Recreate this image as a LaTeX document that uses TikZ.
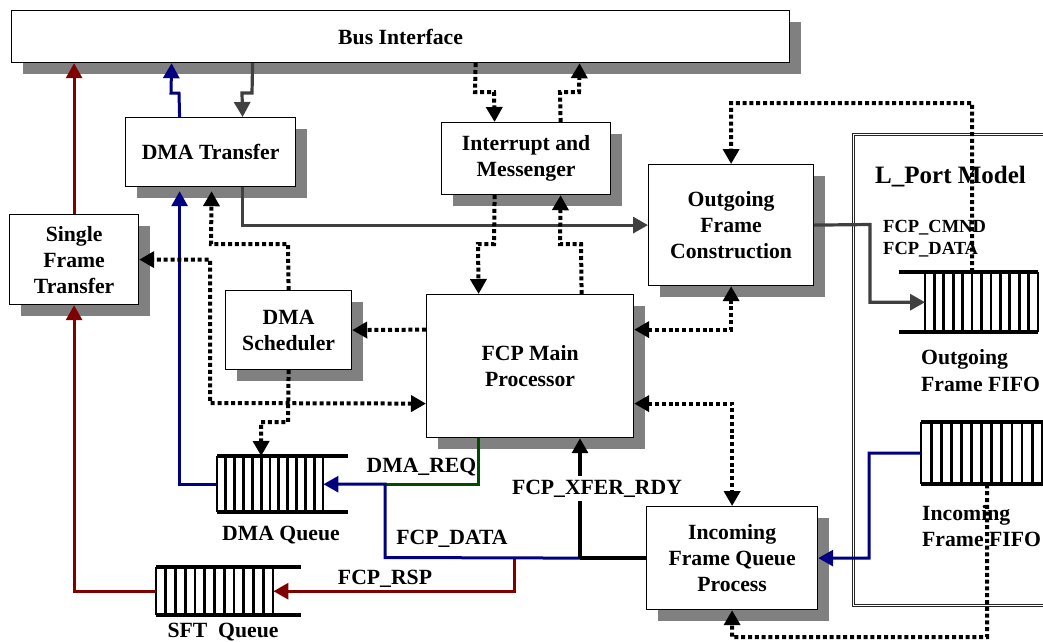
\documentclass[tikz,border=0pt]{standalone}
\usepackage{fontspec}
\setmainfont{Liberation Serif}
\usetikzlibrary{arrows.meta,shadows,calc}
\definecolor{dred}{RGB}{128,0,0}
\definecolor{dblue}{RGB}{0,0,128}
\definecolor{dgray}{RGB}{64,64,64}
\definecolor{dgreen}{RGB}{0,77,0}
\definecolor{shade}{RGB}{128,128,128}
\begin{document}
\begin{tikzpicture}[x=1pt,y=-1pt,
  font=\bfseries\fontsize{21.7}{26}\selectfont,
  >={Triangle[width=16pt,length=15pt]},
  blk/.style={draw=black,line width=1.2pt,fill=white,align=center,inner sep=0pt,anchor=north west,
    drop shadow={shadow xshift=11pt,shadow yshift=-11pt,fill=shade,opacity=1}},
  qarea/.style={inner sep=0pt,anchor=north west},
  qcell/.style={line width=2.8pt,black},
  qrail/.style={line width=3.2pt,black},
  lbl/.style={inner sep=0pt},
  small/.style={font=\bfseries\fontsize{18.5}{21}\selectfont},
  redline/.style={line width=3pt,dred},
  blueline/.style={line width=3pt,dblue},
  greenline/.style={line width=3pt,dgreen},
  grayline/.style={line width=3.2pt,dgray},
  blackline/.style={line width=3.3pt,black},
  dot/.style={line width=4pt,black,dash pattern=on 4pt off 2.8pt},
  dline/.style={draw=black!85,line width=0.9pt,double=white,double distance=1.8pt}
]
\useasboundingbox (0,0) rectangle (1043,641);
\clip (0,0) rectangle (1043,641);

% L_Port model frame
\draw[dline] (853.5,134.5) rectangle (1080,605.5);
\node[lbl,anchor=base west,font=\bfseries\fontsize{25}{30}\selectfont] (lptitle) at (875,183) {L\_Port Model};

% functional blocks
\node[blk,minimum width=778pt,minimum height=52pt] (bus) at (11,10) {Bus Interface};
\node[blk,minimum width=170pt,minimum height=69pt] (dma) at (125,117) {DMA Transfer};
\node[blk,minimum width=129pt,minimum height=90pt] (sft) at (9,214) {Single\\Frame\\Transfer};
\node[blk,minimum width=169pt,minimum height=72pt] (irq) at (441,122) {Interrupt and\\Messenger};
\node[blk,minimum width=165pt,minimum height=121pt] (ofc) at (648,164) {Outgoing\\Frame\\Construction};
\node[blk,minimum width=126pt,minimum height=79pt] (dsch) at (225,290) {DMA\\Scheduler};
\node[blk,minimum width=207pt,minimum height=143pt] (fcp) at (426,294) {FCP Main\\Processor};
\node[blk,minimum width=171pt,minimum height=103pt] (ifq) at (646,506) {Incoming\\Frame Queue\\Process};

% queues
\node[qarea,minimum width=106pt,minimum height=56pt] (dmaq) at (217,456) {};
\foreach \i in {0,...,12} \draw[qcell] ({217+\i*106/12},456) -- ++(0,56);
\draw[qrail] (217,456) -- (348,456) (217,512) -- (348,512);

\node[qarea,minimum width=117pt,minimum height=48pt] (sftq) at (156,567) {};
\foreach \i in {0,...,12} \draw[qcell] ({156+\i*117/12},567) -- ++(0,48);
\draw[qrail] (156,567) -- (301,567) (156,615) -- (301,615);

\node[qarea,minimum width=113pt,minimum height=60pt] (ofifo) at (925,272) {};
\foreach \i in {0,...,12} \draw[qcell] ({925+\i*113/12},272) -- ++(0,60);
\draw[qrail] (899,272) -- (1038,272) (899,332) -- (1038,332);

\node[qarea,minimum width=122pt,minimum height=62pt] (ififo) at (921,422) {};
\foreach \i in {0,...,12} \draw[qcell] ({921+\i*10.1},422) -- ++(0,62);
\draw[qrail] (921,422) -- (1050,422) (921,484) -- (1050,484);

% queue captions
\node[lbl,anchor=base] (dmaqcap) at (281,540) {DMA Queue};
\node[lbl,anchor=base] (sftqcap) at (223,637) {SFT\ \ Queue};
\node[lbl,anchor=base west] (ocap1) at (921,364) {Outgoing};
\node[lbl,anchor=base west] (ocap2) at (921,391) {Frame FIFO};
\node[lbl,anchor=base west] (icap1) at (922,520) {Incoming};
\node[lbl,anchor=base west] (icap2) at (922,546) {Frame FIFO};
\node[lbl,small,anchor=base west] (cmnd) at (883,232) {FCP\_CMND};
\node[lbl,small,anchor=base west] (fdat) at (883,254) {FCP\_DATA};

% junction below the main processor
\coordinate (jn) at ([xshift=-66pt]ifq.west);

% solid connectors
\draw[redline,->] (sft.north) -- (sft.north |- bus.south);
\draw[redline,->] (sftq.west) -| (sft.south);
\draw[redline,->] ([xshift=-66pt]jn) |- (sftq.east);
\draw[blueline,->] (dmaq.west) -| ([xshift=-31pt,yshift=-4pt]dma.south);
\draw[blueline,->] ([xshift=-31pt]dma.north) -- (179,93) -- (171,93) -- ([xshift=-229pt]bus.south);
\draw[greenline] ([xshift=-51.5pt]fcp.south) |- (385,484);
\draw[blueline,->] (jn) -- (385,557.5) |- (dmaq.east);
\draw[blueline,->] (ififo.west) -- (869,453) |- (ifq.east);
\draw[grayline,->] ([xshift=-148pt]bus.south) -- (252,93) -- (242,93) -- ([xshift=32pt]dma.north);
\draw[grayline,->] ([xshift=32pt]dma.south) |- (ofc.west);
\draw[grayline,->] (ofc.east) -- (870,224.5) |- (ofifo.west);
\draw[blackline] (ifq.west) -- (jn);
\draw[blackline,->] (jn) -- (jn |- fcp.south);

% dotted control connectors
\draw[dot,->] ([xshift=75pt]bus.south) -- (475,92) -- (494,92) -- ([xshift=-31.5pt]irq.north);
\draw[dot,->] ([xshift=34.5pt]irq.north) -- (560,92) -- (579,92) -- ([xshift=179pt]bus.south);
\draw[dot,->] ([xshift=-31.5pt]irq.south) -- (494,244) -- (478,244) -- ([xshift=-51.5pt]fcp.north);
\draw[dot,->] ([xshift=51.5pt]fcp.north) -- (581,244) -- (560,244) -- ([xshift=34.5pt]irq.south);
\draw[dot,<->] ([yshift=36.5pt]fcp.east) -| (ofc.south);
\draw[dot,->] ([xshift=-9.5pt]ofifo.north) -- (972,103) -| (ofc.north);
\draw[dot,->] ([xshift=5pt]ififo.south) -- (987,637) -| (ifq.south);
\draw[dot,<->] ([yshift=-37.5pt]fcp.east) -| (ifq.north);
\draw[dot,->] ([yshift=36.5pt]fcp.west) -- (dsch.east);
\draw[dot,->] (dsch.north) -- (288,244) -- (211,244) -- ([xshift=1pt,yshift=-4pt]dma.south);
\draw[dot,<->] ([yshift=-37.5pt]fcp.west) -- (210,403) |- (sft.east);
\draw[dot,->] (dsch.south) -- (288,422) -- (261,422) -- ([xshift=-9pt]dmaq.north);

% signal labels
\node[lbl,anchor=base] (dmareq) at (421.5,472) {DMA\_REQ};
\node[lbl,anchor=base] (fcpdata) at (452,544) {FCP\_DATA};
\node[lbl,anchor=base] (fcprsp) at (385,584) {FCP\_RSP};
\node[fill=white,inner sep=4pt,anchor=base] (xfer) at (597,494) {FCP\_XFER\_RDY};
\end{tikzpicture}
\end{document}
